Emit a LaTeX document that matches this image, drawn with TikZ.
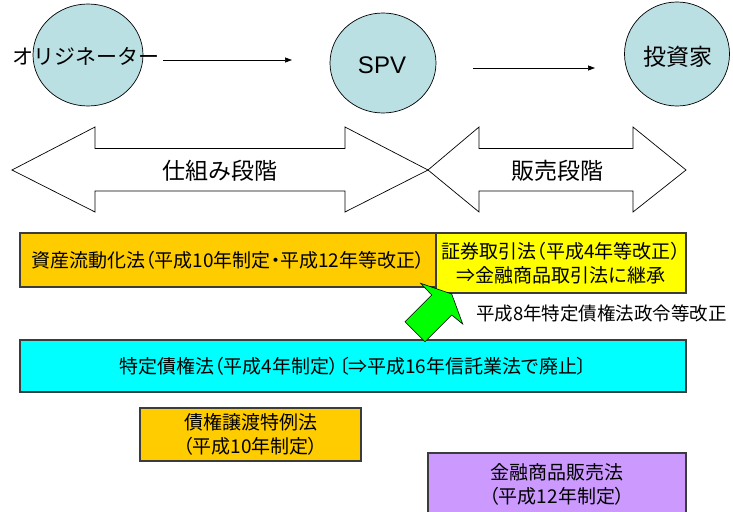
\documentclass[tikz,border=0pt]{standalone}
\usepackage{fontspec}
\setmainfont{Noto Sans CJK JP}
\newfontfamily\jpp{Noto Sans CJK JP}[RawFeature=+palt]
\newfontfamily\latin{Liberation Sans}
\usetikzlibrary{shapes.geometric,arrows.meta}
\definecolor{ellfill}{RGB}{187,224,227}
\definecolor{orng}{RGB}{255,204,0}
\definecolor{yel}{RGB}{255,255,0}
\definecolor{cyn}{RGB}{0,255,255}
\definecolor{purp}{RGB}{204,153,255}
\definecolor{grn}{RGB}{0,255,0}
\definecolor{bord}{RGB}{60,60,60}
\tikzset{
  ell/.style={ellipse, draw=black, line width=0.7pt, fill=ellfill, inner sep=0pt},
  conn/.style={line width=0.7pt, -{Triangle[length=7pt,width=5pt]}},
  bigarrow/.style={draw=black, line width=0.7pt},
  phase/.style={font=\fontsize{23}{23}\selectfont, inner sep=0pt},
  box/.style={draw=bord, line width=1.3pt, inner sep=0pt, align=center, font=\jpp\fontsize{19}{23.5}\selectfont},
  greenarrow/.style={draw=black, line width=0.6pt, fill=grn, line join=miter}
}
\begin{document}
\begin{tikzpicture}[x=1pt,y=-1pt]
\useasboundingbox (0,0) rectangle (733,511);
\clip (0,0) rectangle (733,511);
\fill[white] (0,0) rectangle (733,511);

% top ellipses
\node[ell, minimum width=110pt, minimum height=102pt] (eo) at (88,55) {};
\node[ell, minimum width=106pt, minimum height=100pt] (es) at (383,63) {};
\node[ell, minimum width=105pt, minimum height=104pt] (ei) at (677,54) {};
\node[font=\fontsize{21}{21}\selectfont, inner sep=0pt] (to) at (86,56) {オリジネーター};
\node[font=\latin\fontsize{24}{24}\selectfont, inner sep=0pt] (ts) at (382,65) {SPV};
\node[font=\fontsize{23}{23}\selectfont, inner sep=0pt] (ti) at (678,57) {投資家};

\coordinate (a1s) at (163,60);
\coordinate (a1e) at (292,60);
\coordinate (a2s) at (473,68);
\coordinate (a2e) at (595,68);
\draw[conn] (a1s) -- (a1e);
\draw[conn] (a2s) -- (a2e);

% phase double arrows
\draw[bigarrow] (12,170) -- (95,127) -- (95,148.5) -- (345,148.5) -- (345,127) -- (428,170)
  -- (345,212) -- (345,191) -- (95,191) -- (95,212) -- cycle;
\draw[bigarrow] (428,170) -- (479,127) -- (479,148.5) -- (633,148.5) -- (633,127) -- (686,170)
  -- (633,212) -- (633,191) -- (479,191) -- (479,212) -- cycle;
\node[phase] (p1) at (220,171) {仕組み段階};
\node[phase] (p2) at (557,171) {販売段階};

% law boxes
\node[box, fill=orng, minimum width=416pt, minimum height=54pt] (b1) at (228,260)
  {資産流動化法（平成10年制定・平成12年等改正）};
\node[box, fill=yel, minimum width=250pt, minimum height=60pt] (b2) at (561,263)
  {証券取引法（平成4年等改正）\\⇒金融商品取引法に継承};
\node[box, fill=cyn, minimum width=666pt, minimum height=52pt] (b3) at (353,366)
  {特定債権法（平成4年制定）〔⇒平成16年信託業法で廃止〕};
\node[box, fill=orng, minimum width=221pt, minimum height=53pt] (b4) at (250.5,434.5)
  {債権譲渡特例法\\（平成10年制定）};
\node[box, fill=purp, minimum width=258pt, minimum height=63pt] (b5) at (557,484.5)
  {金融商品販売法\\（平成12年制定）};

% green arrow
\draw[greenarrow] (420.7,283.3) -- (451.7,294) -- (462.7,324) -- (451.7,315)
  -- (425,341.7) -- (405,321.7) -- (431.7,295) -- cycle;
\node[anchor=west, inner sep=0pt, font=\fontsize{18.5}{18.5}\selectfont] (lbl) at (476,313)
  {平成8年特定債権法政令等改正};
\end{tikzpicture}
\end{document}
